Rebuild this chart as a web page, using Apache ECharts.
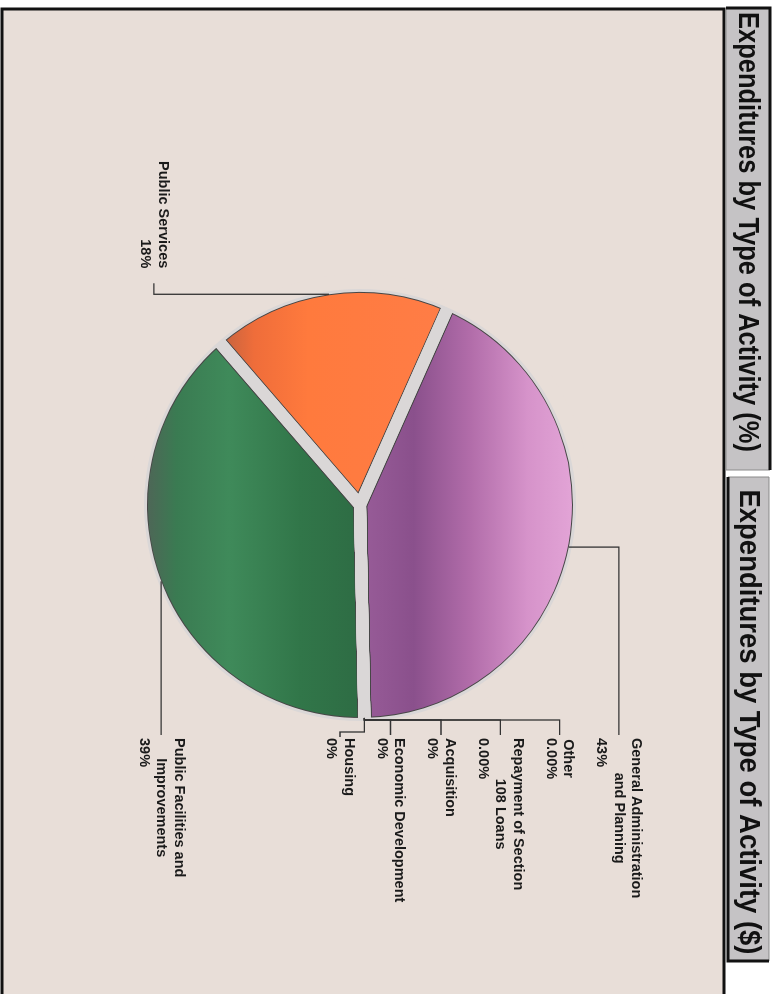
<!DOCTYPE html>
<html>
<head>
<meta charset="utf-8">
<script src="https://cdn.jsdelivr.net/npm/echarts@6/dist/echarts.min.js"></script>
<style>
  html, body { margin: 0; padding: 0; background: #ffffff; overflow: hidden; }
  /* The reference page is scanned sideways: the chart is drawn upright and turned 90° clockwise */
  #wrap {
    position: absolute; left: 0; top: 0;
    width: 994px; height: 773px;
    transform-origin: 0 0;
    transform: translate(773px, 0) rotate(90deg);
  }
</style>
</head>
<body>
<div id="wrap"></div>
<script>
// ---------------- data ----------------
const titles = ['Expenditures by Type of Activity (%)', 'Expenditures by Type of Activity ($)'];
const categories = [
  'General Administration\nand Planning',
  'Other',
  'Repayment of Section\n108 Loans',
  'Acquisition',
  'Economic Development',
  'Housing',
  'Public Facilities and\nImprovements',
  'Public Services'
];
const values = [43, 0, 0, 0, 0, 0, 39, 18];
const pctLabels = ['43%', '0.00%', '0.00%', '0%', '0%', '0%', '39%', '18%'];

// ---------------- styling ----------------
const panelBg = '#e8ded8';
const gapColor = '#dad7d7';
const edgeColor = '#474747';
const lineColor = '#333333';
const CX = 505, CY = 413;
const RA = 219;           // pie radius (stroke centre)
const RVIS = 213;         // visible rim incl. outline
const START = 156;

function vgrad(stops) {
  return new echarts.graphic.LinearGradient(0, 0, 0, 1,
    stops.map(s => ({ offset: s[0], color: s[1] })));
}
const fills = [
  vgrad([[0, '#e6a9da'], [0.25, '#d693ca'], [0.5, '#b16ca9'], [0.74, '#8a508c'], [1, '#9a5e9a']]),
  '#999', '#999', '#999', '#999', '#999',
  vgrad([[0, '#2d6a43'], [0.3, '#317649'], [0.6, '#3f8a5a'], [0.82, '#3a7b52'], [0.95, '#4f6557'], [1, '#5a605c']]),
  vgrad([[0, '#ff7d47'], [0.6, '#ff7a3d'], [0.82, '#ef6d3a'], [1, '#b35f42']])
];

const total = values.reduce((a, b) => a + b, 0);
function rimPoint(i, r) {
  let acc = 0;
  for (let j = 0; j < i; j++) acc += values[j];
  const mid = (acc + values[i] / 2) / total * 360;
  const a = (START - mid) * Math.PI / 180;
  return [CX + r * Math.cos(a), CY - r * Math.sin(a)];
}

const LH = 17.5;
function labelHeight(i) { return (categories[i].split('\n').length + 1) * LH; }

// zero-value label stack, spread evenly between the GA label and the anchor
const zeroIdx = [1, 2, 3, 4, 5];
function zeroLabelYs() {
  const ga = rimPoint(0, RVIS);
  const gaMid = ga[1] - 50;
  const top = gaMid + labelHeight(0) / 2;
  const bottom = CY + 20 + labelHeight(5) / 2;
  const hs = zeroIdx.map(labelHeight);
  const sum = hs.reduce((a, b) => a + b, 0);
  const gap = (bottom - top - sum) / zeroIdx.length;
  const ys = {};
  let y = top;
  zeroIdx.forEach((idx, k) => { y += gap; ys[idx] = y + hs[k] / 2; y += hs[k]; });
  return ys;
}
const zeroYs = zeroLabelYs();

const LBL_X = CX + 233, TICK_X = CX + 230, TRUNK_X = CX + 215;

function layout(params) {
  const i = params.dataIndex;
  const rim = rimPoint(i, RVIS);
  if (i === 0) {
    const y = rim[1] - 50;
    return { x: LBL_X, y: y, align: 'left', verticalAlign: 'middle',
      labelLinePoints: [rim, [rim[0], y], [TICK_X, y]] };
  }
  if (i === 6) {
    return { x: LBL_X, y: rim[1], align: 'left', verticalAlign: 'middle',
      labelLinePoints: [rim, [(rim[0] + TICK_X) / 2, rim[1]], [TICK_X, rim[1]]] };
  }
  if (i === 7) {
    const y = rim[1] + 175;
    return { x: rim[0] - 26, y: y, align: 'right', verticalAlign: 'middle',
      labelLinePoints: [rim, [rim[0], y], [rim[0] - 11, y]] };
  }
  const y = zeroYs[i];
  if (y > rim[1]) {
    return { x: LBL_X, y: y, align: 'left', verticalAlign: 'middle',
      labelLinePoints: [rim, [TICK_X - 3, rim[1]], [TICK_X - 3, y], [TICK_X + 2, y]] };
  }
  return { x: LBL_X, y: y, align: 'left', verticalAlign: 'middle',
    labelLinePoints: [rim, [TRUNK_X, rim[1]], [TRUNK_X, y], [TICK_X, y]] };
}

const pieData = values.map((v, i) => ({ name: categories[i], value: v, itemStyle: { color: fills[i] } }));
const clearData = values.map((v, i) => ({ name: categories[i], value: v }));

const labelFont = '"Liberation Sans", Arial, sans-serif';
const LFS = 14.5;
const rich = {
  n: { fontFamily: labelFont, fontSize: LFS, fontWeight: 'bold', color: '#1a1a1a', lineHeight: LH, align: 'center' },
  p: { fontFamily: labelFont, fontSize: LFS, fontWeight: 'bold', color: '#1a1a1a', lineHeight: LH, align: 'left' },
  pr: { fontFamily: labelFont, fontSize: LFS, fontWeight: 'bold', color: '#1a1a1a', lineHeight: LH, align: 'right' }
};

// title text is a condensed bold face: squeeze Liberation Sans Bold to the reference widths
const titleFont = 'bold 30px "Liberation Sans", Arial, sans-serif';
const titleWidths = [440, 465];
const ctx = document.createElement('canvas').getContext('2d');
ctx.font = titleFont;
const titleScale = titles.map((t, k) => titleWidths[k] / ctx.measureText(t).width);

const chart = echarts.init(document.getElementById('wrap'));
chart.setOption({
  animation: false,
  backgroundColor: '#ffffff',
  graphic: [
    { type: 'rect', z: 0, shape: { x: 9, y: 49, width: 1010, height: 722 },
      style: { fill: panelBg, stroke: '#111', lineWidth: 3 } },
    // "%" tab
    { type: 'rect', z: 1, shape: { x: 8, y: 3, width: 462, height: 44 },
      style: { fill: '#c5c3c5', stroke: '#8a8a8a', lineWidth: 1 } },
    { type: 'polyline', z: 1, shape: { points: [[8, 47], [8, 3], [470, 3]] },
      style: { stroke: '#111', lineWidth: 3, fill: null } },
    { type: 'text', z: 2, x: 232, y: 26, scaleX: titleScale[0],
      style: { text: titles[0], font: titleFont, fill: '#111111', align: 'center', verticalAlign: 'middle' } },
    // "$" tab
    { type: 'rect', z: 1, shape: { x: 477, y: 4, width: 484, height: 41 },
      style: { fill: '#c5c3c5', stroke: '#8a8a8a', lineWidth: 1 } },
    { type: 'polyline', z: 1, shape: { points: [[477, 45], [961, 45], [961, 4]] },
      style: { stroke: '#111', lineWidth: 3, fill: null } },
    { type: 'text', z: 2, x: 722, y: 25, scaleX: titleScale[1],
      style: { text: titles[1], font: titleFont, fill: '#111111', align: 'center', verticalAlign: 'middle' } }
  ],
  series: [
    { // slices with dark outline
      type: 'pie', z: 2, center: [CX, CY], radius: RA, startAngle: START, clockwise: true,
      silent: true, avoidLabelOverlap: false, data: pieData,
      itemStyle: { borderColor: edgeColor, borderWidth: 14, borderJoin: 'miter', borderMiterLimit: 30 },
      label: { show: false }, labelLine: { show: false }, emphasis: { disabled: true }
    },
    { // light gaps between slices
      type: 'pie', z: 3, center: [CX, CY], radius: RA, startAngle: START, clockwise: true,
      silent: true, avoidLabelOverlap: false, data: clearData,
      itemStyle: { color: 'rgba(0,0,0,0)', borderColor: gapColor, borderWidth: 12, borderJoin: 'miter', borderMiterLimit: 30 },
      label: { show: false }, labelLine: { show: false }, emphasis: { disabled: true }
    },
    { // trims the outer halo
      type: 'pie', z: 4, center: [CX, CY], radius: [RA - 3, RA + 12], silent: true,
      data: [{ value: 1, itemStyle: { color: panelBg } }],
      label: { show: false }, labelLine: { show: false }, emphasis: { disabled: true }
    },
    { // labels and leader lines
      type: 'pie', z: 6, center: [CX, CY], radius: RA, startAngle: START, clockwise: true,
      silent: true, avoidLabelOverlap: false, data: clearData,
      itemStyle: { color: 'rgba(0,0,0,0)', borderWidth: 0 },
      emphasis: { disabled: true },
      label: {
        show: true, position: 'outside',
        formatter: function (p) {
          const i = p.dataIndex;
          return '{n|' + categories[i] + '}\n{' + (i === 7 ? 'pr' : 'p') + '|' + pctLabels[i] + '}';
        },
        rich: rich
      },
      labelLine: { show: true, length: 10, length2: 10, lineStyle: { color: lineColor, width: 1.3 } },
      labelLayout: layout
    }
  ]
});
</script>
</body>
</html>
